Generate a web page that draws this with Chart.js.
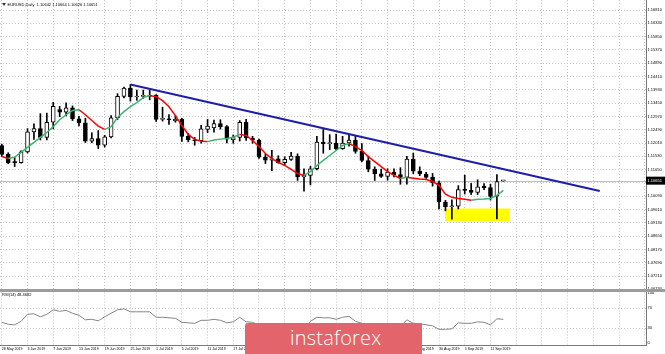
<!DOCTYPE html>
<html>
<head>
<meta charset="utf-8">
<script src="https://cdn.jsdelivr.net/npm/chart.js@4.4.1/dist/chart.umd.min.js"></script>
<style>
  html, body { margin: 0; padding: 0; background: #fff; }
  #wrap { position: relative; width: 665px; height: 354px; overflow: hidden; }
  #priceChart { position: absolute; left: 0; top: 0; }
  #rsiChart { position: absolute; left: 0; top: 292px; }
  #sep { position: absolute; left: 0; top: 289px; width: 665px; height: 3px; background: #9c9c9c; }
  #logo { position: absolute; left: 245px; top: 323px; width: 177px; height: 31px; background: #e3646b;
          border-radius: 3px 0 0 0; color: #fff; font: 300 20px "Open Sans", "Noto Sans", sans-serif;
          line-height: 29px; padding-left: 45px; box-sizing: border-box; letter-spacing: 0.2px; }
</style>
</head>
<body>
<div id="wrap">
  <canvas id="priceChart" width="665" height="290"></canvas>
  <div id="sep"></div>
  <canvas id="rsiChart" width="665" height="62"></canvas>
  <div id="logo">instaforex</div>
</div>
<script>
// EURUSD daily, 28 May - 13 Sep 2019
const dates = ['28 May 2019','29 May 2019','30 May 2019','31 May 2019',
  '3 Jun 2019','4 Jun 2019','5 Jun 2019','6 Jun 2019','7 Jun 2019',
  '10 Jun 2019','11 Jun 2019','12 Jun 2019','13 Jun 2019','14 Jun 2019',
  '17 Jun 2019','18 Jun 2019','19 Jun 2019','20 Jun 2019','21 Jun 2019',
  '24 Jun 2019','25 Jun 2019','26 Jun 2019','27 Jun 2019','28 Jun 2019',
  '1 Jul 2019','2 Jul 2019','3 Jul 2019','4 Jul 2019','5 Jul 2019',
  '8 Jul 2019','9 Jul 2019','10 Jul 2019','11 Jul 2019','12 Jul 2019',
  '15 Jul 2019','16 Jul 2019','17 Jul 2019','18 Jul 2019','19 Jul 2019',
  '22 Jul 2019','23 Jul 2019','24 Jul 2019','25 Jul 2019','26 Jul 2019',
  '29 Jul 2019','30 Jul 2019','31 Jul 2019','1 Aug 2019','2 Aug 2019',
  '5 Aug 2019','6 Aug 2019','7 Aug 2019','8 Aug 2019','9 Aug 2019',
  '12 Aug 2019','13 Aug 2019','14 Aug 2019','15 Aug 2019','16 Aug 2019',
  '19 Aug 2019','20 Aug 2019','21 Aug 2019','22 Aug 2019','23 Aug 2019',
  '26 Aug 2019','27 Aug 2019','28 Aug 2019','29 Aug 2019','30 Aug 2019',
  '2 Sep 2019','3 Sep 2019','4 Sep 2019','5 Sep 2019','6 Sep 2019',
  '9 Sep 2019','10 Sep 2019','11 Sep 2019','12 Sep 2019','13 Sep 2019'];

const open = [1.1192,1.1160,1.1131,1.1130,
  1.1169,1.1241,1.1253,1.1221,1.1276,
  1.1322,1.1312,1.1328,1.1288,1.1274,
  1.1208,1.1217,1.1193,1.1223,1.1292,
  1.1369,1.1399,1.1367,1.1369,1.1370,
  1.1374,1.1286,1.1287,1.1282,1.1286,
  1.1225,1.1212,1.1209,1.1250,1.1255,
  1.1271,1.1260,1.1212,1.1221,1.1276,
  1.1219,1.1211,1.1150,1.1139,1.1144,
  1.1130,1.1142,1.1154,1.1079,1.1084,
  1.1108,1.1204,1.1199,1.1201,1.1181,
  1.1201,1.1212,1.1171,1.1138,1.1107,
  1.1090,1.1080,1.1096,1.1087,1.1077,
  1.1143,1.1099,1.1089,1.1077,1.1057,
  1.0988,1.0971,1.0973,1.1033,1.1030,
  1.1023,1.1045,1.1040,1.1010,1.10642];
const high = [1.1197,1.1166,1.1149,1.1173,
  1.1253,1.1270,1.1307,1.1309,1.1348,
  1.1333,1.1346,1.1335,1.1297,1.1290,
  1.1238,1.1246,1.1229,1.1300,1.1379,
  1.1403,1.1412,1.1392,1.1392,1.1392,
  1.1376,1.1330,1.1304,1.1300,1.1290,
  1.1236,1.1221,1.1265,1.1286,1.1284,
  1.1285,1.1264,1.1230,1.1282,1.1286,
  1.1225,1.1215,1.1161,1.1175,1.1155,
  1.1151,1.1167,1.1162,1.1108,1.1117,
  1.1225,1.1250,1.1231,1.1233,1.1225,
  1.1230,1.1229,1.1199,1.1154,1.1115,
  1.1107,1.1108,1.1108,1.1112,1.1153,
  1.1165,1.1115,1.1095,1.1091,1.1064,
  1.0994,1.0996,1.1047,1.1085,1.1055,
  1.1068,1.1055,1.1052,1.1087,1.10664];
const low = [1.1153,1.1126,1.1116,1.1128,
  1.1165,1.1214,1.1212,1.1212,1.1252,
  1.1296,1.1299,1.1282,1.1263,1.1203,
  1.1202,1.1181,1.1186,1.1219,1.1286,
  1.1364,1.1352,1.1355,1.1362,1.1357,
  1.1279,1.1280,1.1268,1.1276,1.1207,
  1.1205,1.1193,1.1200,1.1238,1.1240,
  1.1251,1.1201,1.1200,1.1208,1.1210,
  1.1200,1.1145,1.1127,1.1101,1.1128,
  1.1122,1.1138,1.1066,1.1027,1.1050,
  1.1104,1.1164,1.1177,1.1175,1.1178,
  1.1190,1.1164,1.1134,1.1097,1.1066,
  1.1077,1.1067,1.1079,1.1052,1.1052,
  1.1090,1.1083,1.1073,1.1045,1.0963,
  1.0956,1.0926,1.0963,1.1017,1.1015,
  1.1015,1.1033,1.0995,1.0927,1.10626];
const close = [1.1160,1.1130,1.1130,1.1169,
  1.1241,1.1253,1.1221,1.1276,1.1333,
  1.1312,1.1328,1.1288,1.1274,1.1208,
  1.1217,1.1193,1.1223,1.1292,1.1369,
  1.1399,1.1367,1.1369,1.1370,1.1374,
  1.1286,1.1287,1.1285,1.1286,1.1225,
  1.1212,1.1209,1.1252,1.1262,1.1271,
  1.1260,1.1215,1.1221,1.1276,1.1219,
  1.1211,1.1150,1.1139,1.1144,1.1130,
  1.1142,1.1154,1.1079,1.1084,1.1108,
  1.1204,1.1199,1.1201,1.1181,1.1201,
  1.1212,1.1171,1.1138,1.1107,1.1090,
  1.1080,1.1096,1.1087,1.1077,1.1143,
  1.1099,1.1089,1.1077,1.1057,1.0988,
  1.0971,1.0973,1.1033,1.1030,1.1023,
  1.1043,1.1040,1.1008,1.1062,1.10651];

// smoothed moving average (red falling / green rising)
const ma = [1.1152,1.1145,1.1150,1.1167,
  1.1185,1.1203,1.1221,1.1239,1.1260,
  1.1285,1.1303,1.1318,1.1321,1.1303,
  1.1282,1.1262,1.1250,1.1260,1.1293,
  1.1314,1.1332,1.1347,1.1365,1.1372,
  1.1368,1.1354,1.1332,1.1300,1.1264,
  1.1232,1.1214,1.1207,1.1206,1.1212,
  1.1215,1.1217,1.1222,1.1232,1.1228,
  1.1210,1.1188,1.1163,1.1145,1.1131,
  1.1120,1.1106,1.1091,1.1084,1.1098,
  1.1120,1.1138,1.1156,1.1174,1.1192,
  1.1199,1.1188,1.1174,1.1152,1.1134,
  1.1116,1.1098,1.1084,1.1073,1.1077,
  1.1074,1.1071,1.1069,1.1062,1.1048,
  1.1016,1.1005,1.1001,1.0998,1.0994,
  1.0998,1.0999,1.1001,1.1012,1.1030];

const rsi = [42,38,37,44,
  58,59,53,58,67,
  64,66,60,56,47,
  48,45,53,60,67,
  69,63,63,63,63,
  52,52,51,50,42,
  41,40,46,46,48,
  46,41,43,52,43,
  42,36,34,35,33,
  35,37,28,30,44,
  52,51,51,48,52,
  54,44,40,35,34,
  33,36,35,34,47,
  40,39,37,35,28,
  28,29,41,40,40,
  43,42,37,49,48];

// trend line from the 25 Jun high, and the yellow support zone
const trendX = [20, 93];
const trendY = [1.1412, 1.1028];
const zoneX = [68.9, 79.0];
const zoneTop = 1.0965;
const zoneBottom = 1.0919;

const priceTicks = [1.1681,1.1633,1.1585,1.1537,1.1489,1.1441,1.1393,1.1345,1.1297,1.1249,1.1201,
  1.1153,1.1105,1.1057,1.1009,1.0961,1.0913,1.0865,1.0817,1.0769,1.0721,1.0673];
const rsiTicks = [0, 30, 70, 100];
const dateStep = 4;

const xMin = -0.28, xMax = 100.19;
const gridColor = '#c4c4c4';
const fontFam = '"Liberation Sans", Arial, sans-serif';
const last = close.length - 1;

const dateTicks = [];
for (let i = 0; i <= xMax; i += dateStep) dateTicks.push({ value: i });

function noPad(scale) {
  scale.paddingTop = 0; scale.paddingBottom = 0;
  scale.paddingLeft = 0; scale.paddingRight = 0;
}

const mainOverlay = {
  id: 'mainOverlay',
  beforeDatasetsDraw(chart) {
    const ctx = chart.ctx, a = chart.chartArea;
    const y = Math.round(chart.scales.y.getPixelForValue(close[last])) + 0.5;
    ctx.save();
    ctx.strokeStyle = '#c0c0c0';
    ctx.lineWidth = 1;
    ctx.beginPath(); ctx.moveTo(a.left, y); ctx.lineTo(a.right, y); ctx.stroke();
    ctx.restore();
  },
  afterDraw(chart) {
    const ctx = chart.ctx, a = chart.chartArea;
    const y = chart.scales.y.getPixelForValue(close[last]);
    ctx.save();
    ctx.fillStyle = '#000';
    ctx.fillRect(a.right, y - 4, 19, 8);
    ctx.fillStyle = '#fff';
    ctx.font = '4px ' + fontFam;
    ctx.textBaseline = 'middle';
    ctx.fillText(close[last].toFixed(5), a.right + 1.5, y);
    // title
    ctx.fillStyle = '#333';
    ctx.beginPath(); ctx.moveTo(2, 3); ctx.lineTo(6, 3); ctx.lineTo(4, 6); ctx.closePath(); ctx.fill();
    ctx.fillStyle = '#000';
    ctx.fillText('EURUSD,Daily  ' + open[last].toFixed(5) + ' ' + high[last].toFixed(5) + ' ' +
      low[last].toFixed(5) + ' ' + close[last].toFixed(5), 7.5, 4.6);
    ctx.restore();
  }
};

new Chart(document.getElementById('priceChart'), {
  type: 'bar',
  data: {
    datasets: [
      {
        type: 'line', order: 0,
        data: trendX.map((x, i) => ({ x: x, y: trendY[i] })),
        borderColor: '#1e1ea6', borderWidth: 2, pointRadius: 0
      },
      {
        type: 'line', order: 1,
        data: ma.map((v, i) => ({ x: i, y: v })),
        borderWidth: 1.5, pointRadius: 0,
        segment: {
          borderColor: c => c.p1.parsed.y >= c.p0.parsed.y ? '#3cb371' : '#ff0000'
        }
      },
      {
        order: 2, grouped: false, barThickness: 4, minBarLength: 1,
        data: open.map((o, i) => ({ x: i, y: [o, close[i]] })),
        backgroundColor: open.map((o, i) => close[i] >= o ? '#ffffff' : '#000000'),
        borderColor: '#000', borderWidth: 1, borderSkipped: false
      },
      {
        order: 3, grouped: false, barThickness: 1,
        data: low.map((l, i) => ({ x: i, y: [l, high[i]] })),
        backgroundColor: '#000'
      },
      {
        type: 'line', order: 4,
        data: zoneX.map(x => ({ x: x, y: zoneTop })),
        borderWidth: 0, pointRadius: 0,
        backgroundColor: '#ffff00',
        fill: { value: zoneBottom }
      }
    ]
  },
  options: {
    responsive: false,
    animation: false,
    events: [],
    layout: { padding: 0 },
    plugins: { legend: { display: false }, tooltip: { enabled: false } },
    scales: {
      x: {
        type: 'linear', min: xMin, max: xMax, offset: false,
        afterBuildTicks: s => { s.ticks = dateTicks.slice(); },
        afterFit: s => { s.height = 0; noPad(s); },
        ticks: { display: false },
        grid: { color: gridColor, drawTicks: false, offset: false },
        border: { display: false, dash: [1, 2] }
      },
      y: {
        position: 'right',
        min: 1.06705, max: 1.17171,
        afterBuildTicks: s => { s.ticks = priceTicks.map(v => ({ value: v })); },
        afterFit: s => { s.width = 19; noPad(s); },
        ticks: {
          callback: v => Number(v).toFixed(5),
          font: { size: 4, family: fontFam }, color: '#000', padding: 1.5
        },
        grid: { color: gridColor, drawTicks: false },
        border: { display: true, color: '#7a7a7a', dash: [1, 2] }
      }
    }
  },
  plugins: [mainOverlay]
});

const rsiOverlay = {
  id: 'rsiOverlay',
  afterDraw(chart) {
    const ctx = chart.ctx;
    ctx.save();
    ctx.fillStyle = '#000';
    ctx.font = '4px ' + fontFam;
    ctx.textBaseline = 'middle';
    ctx.fillText('RSI(14) 48.4682', 2, 3);
    ctx.restore();
  }
};

new Chart(document.getElementById('rsiChart'), {
  type: 'line',
  data: {
    datasets: [{
      data: rsi.map((v, i) => ({ x: i, y: v })),
      borderColor: '#858585', borderWidth: 1, pointRadius: 0
    }]
  },
  options: {
    responsive: false,
    animation: false,
    events: [],
    layout: { padding: { top: 0.5, left: 0, right: 0, bottom: 0 } },
    plugins: { legend: { display: false }, tooltip: { enabled: false } },
    scales: {
      x: {
        type: 'linear', min: xMin, max: xMax, offset: false,
        afterBuildTicks: s => { s.ticks = dateTicks.slice(); },
        afterFit: s => { s.height = 9; noPad(s); },
        ticks: {
          align: 'start', maxRotation: 0, autoSkip: false, padding: 1.5,
          font: { size: 3.6, family: fontFam }, color: '#000',
          callback: v => dates[v] || ''
        },
        grid: { color: gridColor, drawTicks: false, offset: false },
        border: { display: true, color: '#7a7a7a', dash: [1, 2] }
      },
      y: {
        position: 'right',
        min: -3.4, max: 101.6,
        afterBuildTicks: s => { s.ticks = rsiTicks.map(v => ({ value: v })); },
        afterFit: s => { s.width = 19; noPad(s); },
        ticks: { font: { size: 4, family: fontFam }, color: '#000', padding: 1.5 },
        grid: {
          color: c => (c.tick && (c.tick.value === 30 || c.tick.value === 70)) ? gridColor : 'rgba(0,0,0,0)',
          drawTicks: false
        },
        border: { display: true, color: '#7a7a7a', dash: [1, 2] }
      }
    }
  },
  plugins: [rsiOverlay]
});
</script>
</body>
</html>
